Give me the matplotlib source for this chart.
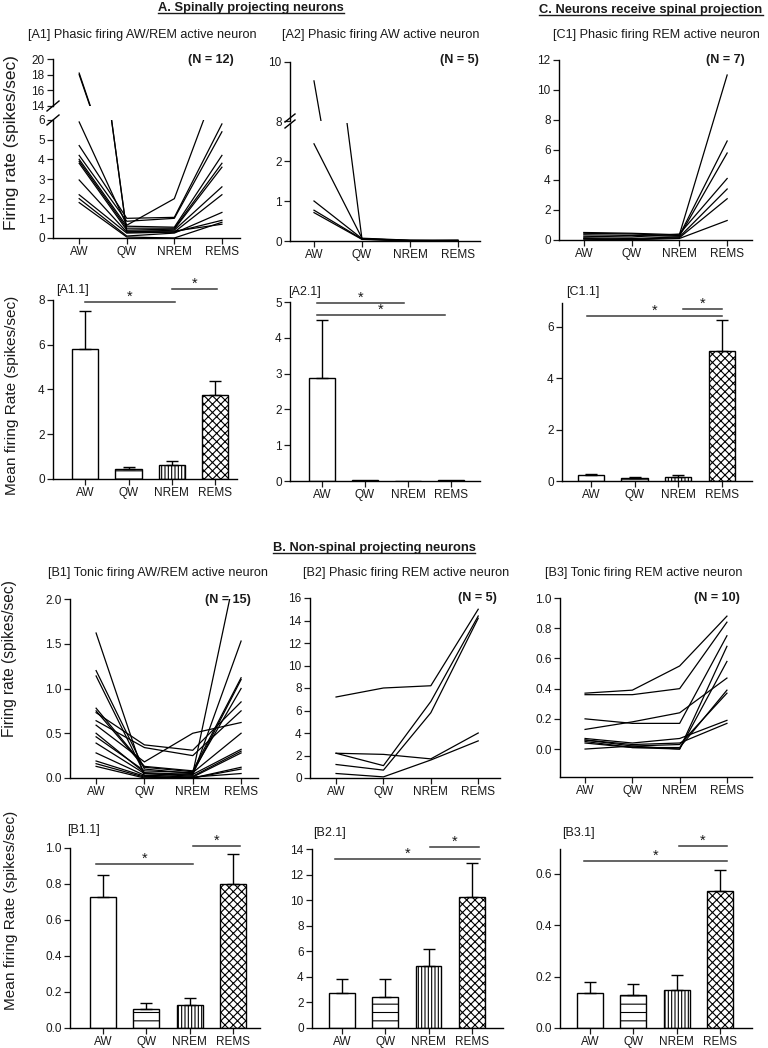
import numpy as np
import matplotlib
matplotlib.use('Agg')
import matplotlib.pyplot as plt
from matplotlib.lines import Line2D
from matplotlib.ticker import FormatStrFormatter

plt.rcParams['font.family'] = ['Liberation Sans', 'DejaVu Sans']
plt.rcParams['hatch.linewidth'] = 0.8
plt.rcParams['axes.linewidth'] = 1.0

# ---------------- data ----------------
states = ['AW', 'QW', 'NREM', 'REMS']

# individual neurons: columns = AW, QW, NREM, REMS
a1_rates = [
    [18.2, 0.30, 0.30, 0.90],
    [18.0, 0.35, 0.35, 0.70],
    [5.90, 0.65, 2.00, 8.50],
    [4.70, 1.00, 1.05, 5.80],
    [4.20, 0.85, 1.00, 5.40],
    [4.00, 0.60, 0.55, 4.20],
    [3.90, 0.50, 0.50, 3.80],
    [3.80, 0.40, 0.45, 3.60],
    [2.95, 0.30, 0.40, 2.60],
    [2.20, 0.25, 0.30, 2.20],
    [2.00, 0.10, 0.25, 1.30],
    [1.80, 0.05, 0.00, 0.80],
]
a2_rates = [
    [9.36, 0.05, 0.02, 0.02],
    [2.43, 0.07, 0.02, 0.01],
    [1.00, 0.06, 0.01, 0.00],
    [0.77, 0.05, 0.00, 0.02],
    [0.71, 0.04, 0.00, 0.00],
]
c1_rates = [
    [0.50, 0.45, 0.35, 11.0],
    [0.45, 0.40, 0.30, 6.60],
    [0.35, 0.30, 0.25, 5.80],
    [0.25, 0.20, 0.40, 4.10],
    [0.15, 0.10, 0.20, 3.40],
    [0.10, 0.05, 0.15, 2.75],
    [0.05, 0.02, 0.10, 1.30],
]
b1_rates = [
    [1.62, 0.02, 0.05, 1.10],
    [1.20, 0.10, 0.05, 2.60],
    [1.14, 0.05, 0.03, 1.53],
    [0.78, 0.13, 0.08, 1.12],
    [0.75, 0.12, 0.07, 1.00],
    [0.73, 0.37, 0.31, 0.85],
    [0.64, 0.34, 0.25, 0.75],
    [0.59, 0.18, 0.50, 0.62],
    [0.46, 0.08, 0.06, 0.50],
    [0.50, 0.06, 0.04, 0.32],
    [0.39, 0.05, 0.02, 0.30],
    [0.28, 0.03, 0.01, 0.28],
    [0.19, 0.02, 0.00, 0.12],
    [0.16, 0.01, 0.00, 0.10],
    [0.13, 0.00, 0.01, 0.05],
]
b2_rates = [
    [7.2, 8.0, 8.2, 15.0],
    [2.2, 1.1, 6.8, 14.4],
    [1.2, 0.7, 5.8, 14.2],
    [2.2, 2.1, 1.7, 4.0],
    [0.4, 0.1, 1.6, 3.3],
]
b3_rates = [
    [0.37, 0.39, 0.55, 0.88],
    [0.36, 0.36, 0.40, 0.84],
    [0.20, 0.17, 0.17, 0.75],
    [0.13, 0.18, 0.24, 0.47],
    [0.07, 0.04, 0.07, 0.19],
    [0.06, 0.03, 0.04, 0.17],
    [0.06, 0.02, 0.00, 0.68],
    [0.05, 0.01, 0.00, 0.58],
    [0.04, 0.01, 0.01, 0.39],
    [0.00, 0.02, 0.03, 0.37],
]

# group means and SEM
a11_mean = [5.83, 0.45, 0.63, 3.75]
a11_sem = [1.67, 0.10, 0.17, 0.65]
a21_mean = [2.87, 0.02, 0.00, 0.02]
a21_sem = [1.63, 0.00, 0.00, 0.00]
c11_mean = [0.22, 0.10, 0.17, 5.05]
c11_sem = [0.04, 0.04, 0.05, 1.20]
b11_mean = [0.73, 0.105, 0.13, 0.80]
b11_sem = [0.12, 0.035, 0.035, 0.165]
b21_mean = [2.70, 2.45, 4.85, 10.25]
b21_sem = [1.15, 1.40, 1.30, 2.65]
b31_mean = [0.137, 0.127, 0.148, 0.533]
b31_sem = [0.041, 0.043, 0.060, 0.082]

# ---------------- figure ----------------
W, H = 768, 1048
fig = plt.figure(figsize=(W / 100, H / 100), dpi=100)


def box(left, right, top, bottom):
    return fig.add_axes([left / W, 1 - bottom / H, (right - left) / W, (bottom - top) / H])


def fx(x):
    return x / W


def fy(y):
    return 1 - y / H


TICK_FS = 8.5
TXT = '#1a1a1a'


def style(ax, show_x=True):
    ax.spines['top'].set_visible(False)
    ax.spines['right'].set_visible(False)
    ax.tick_params(axis='both', direction='out', length=4, width=0.9,
                   labelsize=TICK_FS, pad=2, colors=TXT)
    ax.set_facecolor('none')
    if show_x:
        ax.set_xticks(range(len(states)))
        ax.set_xticklabels(states)
    else:
        ax.spines['bottom'].set_visible(False)
        ax.set_xticks([])


def draw_lines(ax, rates):
    x = np.arange(len(states))
    for r in rates:
        ax.plot(x, r, color='black', lw=0.9)


HATCHES = ['', '--', '|||||', 'xxxx']


def draw_bars(ax, means, sems):
    x = np.arange(len(states))
    for xi, m, h in zip(x, means, HATCHES):
        ax.bar(xi, m, width=0.6, color='white', edgecolor='black',
               linewidth=1.0, hatch=h, zorder=2)
    for xi, m, s in zip(x, means, sems):
        if s > 0:
            ax.errorbar([xi], [m], yerr=[[0], [s]], fmt='none', ecolor='black',
                        elinewidth=1, capsize=4, capthick=1, zorder=3)


def sig(ax, x0, x1, y):
    ax.plot([x0, x1], [y, y], color='#3a3a3a', lw=1.1, clip_on=False, zorder=4)
    ax.annotate('*', xy=((x0 + x1) / 2, y), xytext=(0, 1.0), textcoords='offset points',
                ha='center', va='baseline', fontsize=10.5, annotation_clip=False, color=TXT)


def slash(xp, yp, dx=6, dy=5):
    fig.add_artist(Line2D([fx(xp - dx), fx(xp + dx)], [fy(yp + dy), fy(yp - dy)],
                          transform=fig.transFigure, color='black', lw=1.0))


# ---- Row 1: A1 (broken), A2 (broken), C1 ----
a1_top = box(53, 240, 59, 106)
a1_bot = box(53, 240, 120, 238)
for ax in (a1_top, a1_bot):
    draw_lines(ax, a1_rates)
    ax.set_xlim(-0.55, 3.38)
style(a1_top, show_x=False)
style(a1_bot)
a1_top.set_ylim(14, 20)
a1_top.set_yticks([14, 16, 18, 20])
a1_bot.set_ylim(0, 6)
a1_bot.set_yticks(range(0, 7))
slash(53, 106)
slash(53, 120)

a2_top = box(290, 480, 62, 121)
a2_bot = box(290, 480, 123, 241)
for ax in (a2_top, a2_bot):
    draw_lines(ax, a2_rates)
    ax.set_xlim(-0.5, 3.46)
style(a2_top, show_x=False)
style(a2_bot)
a2_top.set_ylim(8, 10)
a2_top.set_yticks([8, 10])
a2_bot.set_ylim(0, 2.95)
a2_bot.set_yticks([0, 1, 2])
slash(290, 118, 5, 4)
slash(290, 124, 5, 4)

c1 = box(559, 752, 60, 240)
draw_lines(c1, c1_rates)
style(c1)
c1.set_xlim(-0.52, 3.52)
c1.set_ylim(0, 12)
c1.set_yticks(range(0, 13, 2))

# ---- Row 2: bars ----
a11 = box(53, 237, 300, 479)
draw_bars(a11, a11_mean, a11_sem)
style(a11)
a11.set_xlim(-0.74, 3.5)
a11.set_ylim(0, 8)
a11.set_yticks(range(0, 9, 2))
sig(a11, 0.0, 2.06, 7.9)
sig(a11, 2.0, 3.05, 8.48)

a21 = box(290, 480, 302, 481)
draw_bars(a21, a21_mean, a21_sem)
style(a21)
a21.set_xlim(-0.74, 3.67)
a21.set_ylim(0, 5)
a21.set_yticks(range(0, 6))
sig(a21, -0.12, 1.9, 4.97)
sig(a21, -0.12, 2.86, 4.64)

c11 = box(562, 752, 303, 481)
draw_bars(c11, c11_mean, c11_sem)
style(c11)
c11.set_xlim(-0.66, 3.69)
c11.set_ylim(0, 6.93)
c11.set_yticks([0, 2, 4, 6])
sig(c11, -0.09, 3.0, 6.42)
sig(c11, 2.1, 3.0, 6.68)

# ---- Row 3: B1, B2, B3 ----
b1 = box(70, 258, 599, 778)
draw_lines(b1, b1_rates)
style(b1)
b1.set_xlim(-0.54, 3.35)
b1.set_ylim(0, 2)
b1.set_yticks(np.arange(0, 2.01, 0.5))
b1.yaxis.set_major_formatter(FormatStrFormatter('%.1f'))

b2 = box(310, 500, 598, 778)
draw_lines(b2, b2_rates)
style(b2)
b2.set_xlim(-0.55, 3.46)
b2.set_ylim(0, 16)
b2.set_yticks(range(0, 17, 2))

b3 = box(560, 752, 598, 777)
draw_lines(b3, b3_rates)
style(b3)
b3.set_xlim(-0.53, 3.53)
b3.set_ylim(-0.185, 1.0)
b3.set_yticks(np.arange(0, 1.01, 0.2))
b3.yaxis.set_major_formatter(FormatStrFormatter('%.1f'))

# ---- Row 4: bars ----
b11 = box(70, 260, 848, 1028)
draw_bars(b11, b11_mean, b11_sem)
style(b11)
b11.set_xlim(-0.76, 3.62)
b11.set_ylim(0, 1.0)
b11.set_yticks(np.arange(0, 1.01, 0.2))
b11.yaxis.set_major_formatter(FormatStrFormatter('%.1f'))
sig(b11, -0.15, 2.08, 0.909)
sig(b11, 2.07, 3.16, 1.011)

b21 = box(312, 503, 849, 1028)
draw_bars(b21, b21_mean, b21_sem)
style(b21)
b21.set_xlim(-0.69, 3.72)
b21.set_ylim(0, 14)
b21.set_yticks(range(0, 15, 2))
sig(b21, -0.16, 3.19, 13.2)
sig(b21, 2.03, 3.16, 14.18)

b31 = box(560, 752, 849, 1028)
draw_bars(b31, b31_mean, b31_sem)
style(b31)
b31.set_xlim(-0.69, 3.74)
b31.set_ylim(0, 0.697)
b31.set_yticks([0, 0.2, 0.4, 0.6])
b31.yaxis.set_major_formatter(FormatStrFormatter('%.1f'))
sig(b31, -0.14, 3.16, 0.649)
sig(b31, 2.06, 3.16, 0.709)

# ---------------- texts ----------------
heads = []
heads.append(fig.text(fx(251), fy(8), 'A. Spinally projecting neurons', ha='center', va='center',
                      fontsize=9.3, fontweight='bold', color=TXT))
heads.append(fig.text(fx(651), fy(10), 'C. Neurons receive spinal projection', ha='center', va='center',
                      fontsize=9.3, fontweight='bold', color=TXT))
heads.append(fig.text(fx(374), fy(548), 'B. Non-spinal projecting neurons', ha='center', va='center',
                      fontsize=9.3, fontweight='bold', color=TXT))

TITLE_FS = 9.1
titles = [
    (28, 35, '[A1] Phasic firing AW/REM active neuron'),
    (282, 35, '[A2] Phasic firing AW active neuron'),
    (553, 35, '[C1] Phasic firing REM active neuron'),
    (48, 573, '[B1] Tonic firing AW/REM active neuron'),
    (303, 573, '[B2] Phasic firing REM active neuron'),
    (545, 573, '[B3] Tonic firing REM active neuron'),
]
for x, y, s in titles:
    fig.text(fx(x), fy(y), s, ha='left', va='center', fontsize=TITLE_FS, color=TXT)

ns = [
    (211, 60, '(N = 12)'),
    (459, 60, '(N = 5)'),
    (725, 60, '(N = 7)'),
    (228, 600, '(N = 15)'),
    (477, 598, '(N = 5)'),
    (717, 598, '(N = 10)'),
]
for x, y, s in ns:
    fig.text(fx(x), fy(y), s, ha='center', va='center', fontsize=9, fontweight='bold', color=TXT)

sub = [
    (56, 290, '[A1.1]'),
    (288, 292, '[A2.1]'),
    (566, 292, '[C1.1]'),
    (67, 830, '[B1.1]'),
    (313, 833, '[B2.1]'),
    (562, 833, '[B3.1]'),
]
for x, y, s in sub:
    fig.text(fx(x), fy(y), s, ha='left', va='center', fontsize=9, color=TXT)

fig.text(fx(12), fy(143), 'Firing rate (spikes/sec)', rotation=90, ha='center', va='center',
         fontsize=12.4, color=TXT)
fig.text(fx(12), fy(395), 'Mean firing Rate (spikes/sec)', rotation=90, ha='center', va='center',
         fontsize=11.1, color=TXT)
fig.text(fx(10), fy(659), 'Firing rate (spikes/sec)', rotation=90, ha='center', va='center',
         fontsize=11.2, color=TXT)
fig.text(fx(11), fy(910), 'Mean firing Rate (spikes/sec)', rotation=90, ha='center', va='center',
         fontsize=11.1, color=TXT)

# underline the section headings
fig.canvas.draw()
renderer = fig.canvas.get_renderer()
for t in heads:
    bb = t.get_window_extent(renderer)
    yl = (bb.y0 + 1) / H
    fig.add_artist(Line2D([bb.x0 / W, bb.x1 / W], [yl, yl], transform=fig.transFigure,
                          color=TXT, lw=1.0))

fig.savefig('out.png', dpi=100, facecolor='white')
